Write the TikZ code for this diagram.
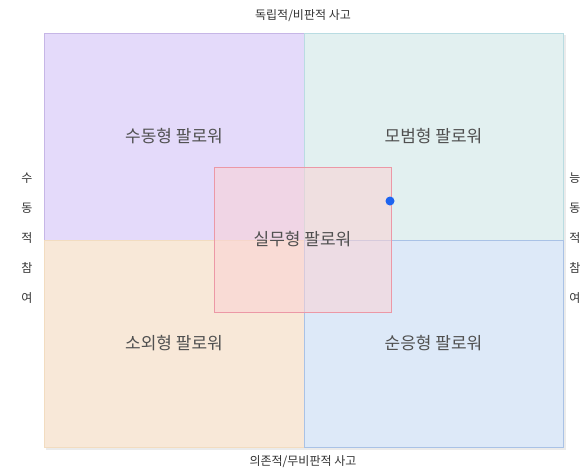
\documentclass[tikz,border=0pt]{standalone}
\usepackage{fontspec}
\setmainfont{Noto Sans CJK KR}
\definecolor{qpurple}{HTML}{E4DAFA}
\definecolor{qpurpleb}{HTML}{C6B6E6}
\definecolor{qteal}{HTML}{E2F0F0}
\definecolor{qtealb}{HTML}{B9DCE2}
\definecolor{qorange}{HTML}{F8E8D8}
\definecolor{qorangeb}{HTML}{F2DCC0}
\definecolor{qblue}{HTML}{DDE9F8}
\definecolor{qblueb}{HTML}{A9C2E6}
\definecolor{qpink}{HTML}{FBD2D4}
\definecolor{qpinkb}{HTML}{EC98A6}
\definecolor{qdot}{HTML}{1E64F0}
\definecolor{labelgray}{HTML}{505050}
\definecolor{axisgray}{HTML}{333333}
\tikzset{
  quad/.style={rectangle, draw, line width=0.8pt, inner sep=0pt, text=labelgray,
    font=\fontsize{17}{19}\selectfont},
  midbox/.style={rectangle, draw=qpinkb, fill=qpink, fill opacity=0.55, text opacity=1,
    line width=0.9pt, inner sep=0pt, minimum width=177pt, minimum height=145pt,
    text=labelgray, font=\fontsize{17}{19}\selectfont},
  axislabel/.style={inner sep=0pt, text=axisgray, font=\fontsize{12}{14}\selectfont},
  sidelabel/.style={inner sep=0pt, text=axisgray, align=center, font=\fontsize{12}{30}\selectfont},
  handle/.style={circle, fill=qdot, inner sep=0pt, minimum size=9pt}
}
\begin{document}
\begin{tikzpicture}[x=1pt,y=-1pt]
\path[use as bounding box] (0,0) rectangle (586,475);
\fill[white] (0,0) rectangle (586,475);
% soft shadow
\fill[black!8] (46,35) rectangle (565.5,449.5);
\node[quad, draw=qpurpleb, fill=qpurple, minimum width=260pt, minimum height=207pt] (pass) at (174,136.5) {수동형 팔로워};
\node[quad, draw=qtealb, fill=qteal, minimum width=259pt, minimum height=207pt] (model) at (433.5,136.5) {모범형 팔로워};
\node[quad, draw=qorangeb, fill=qorange, minimum width=260pt, minimum height=207pt] (alien) at (174,343.5) {소외형 팔로워};
\node[quad, draw=qblueb, fill=qblue, minimum width=259pt, minimum height=207pt] (conf) at (433.5,343.5) {순응형 팔로워};
\node[midbox] (prag) at (302.5,239.5) {실무형 팔로워};
\node[handle] (dot) at (390,201) {};
\node[axislabel] (top) at (303,16) {독립적/비판적 사고};
\node[axislabel] (bottom) at (303,462) {의존적/무비판적 사고};
\node[sidelabel] (left) at (27,238) {수\\동\\적\\참\\여};
\node[sidelabel] (right) at (575,238) {능\\동\\적\\참\\여};
\end{tikzpicture}
\end{document}
